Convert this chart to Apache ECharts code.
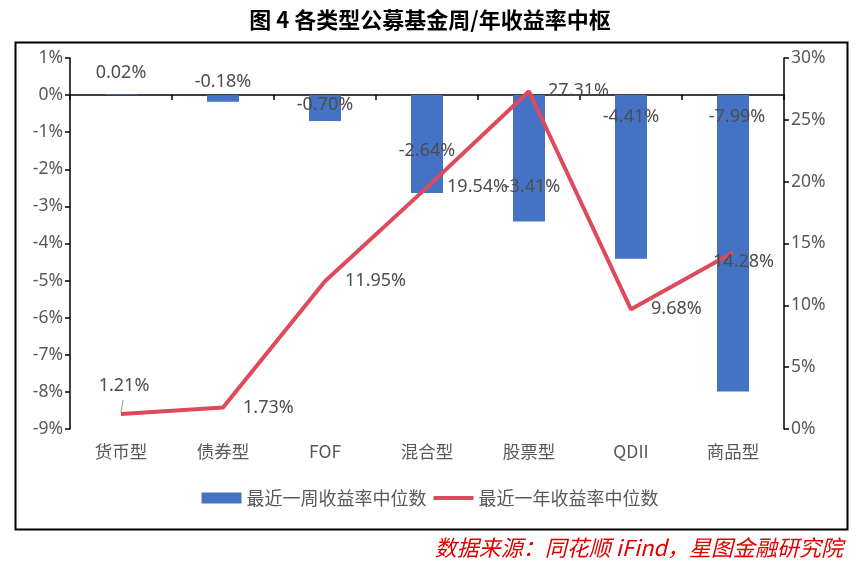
<!DOCTYPE html>
<html><head><meta charset="utf-8">
<script src="https://cdn.jsdelivr.net/npm/echarts@6/dist/echarts.min.js"></script>
<style>html,body{margin:0;padding:0;background:#fff}#c{width:860px;height:562px}</style>
</head><body><div id="c"></div>
<script>
const categories = ['货币型','债券型','FOF','混合型','股票型','QDII','商品型'];
const weekMedian = [0.02, -0.18, -0.70, -2.64, -3.41, -4.41, -7.99];
const yearMedian = [1.21, 1.73, 11.95, 19.54, 27.31, 9.68, 14.28];
const leftTicks = {min: -9, max: 1, interval: 1};
const rightTicks = {min: 0, max: 30, interval: 5};
const seriesNames = ['最近一周收益率中位数', '最近一年收益率中位数'];

const labelColor = '#4d4d4d';
const font = '"Noto Sans", "Noto Sans CJK SC", sans-serif';
// label placement styles (not data)
const barLabelStyle = [
  {position:'top', distance:12},
  {position:'top', distance:4},
  {position:'insideTop', distance:1},
  {position:'insideTop', distance:47},
  {position:'insideTop', distance:83, offset:[3,0]},
  {position:'insideTop', distance:13},
  {position:'insideTop', distance:13, offset:[4,0]}
];
const lineLabelStyle = [
  {position:'top', distance:19, offset:[3,0]},
  {position:'right', distance:20},
  {position:'right', distance:20},
  {position:'right', distance:20},
  {position:'right', distance:19},
  {position:'right', distance:20},
  {position:'right', distance:-20, offset:[0,9]}
];
const pct = v => v.toFixed(2) + '%';

const chart = echarts.init(document.getElementById('c'), null, {renderer:'canvas'});
chart.setOption({
  animation: false,
  backgroundColor: '#fff',
  title: {
    text: '图 4 各类型公募基金周/年收益率中枢',
    left: 'center', top: 4,
    textStyle: {fontSize: 22, fontWeight: 'bold', color: '#000', fontFamily: '"Noto Sans CJK SC", sans-serif'}
  },
  legend: {
    top: 484, left: 'center',
    itemWidth: 40, itemHeight: 11, itemGap: 7,
    textStyle: {fontSize: 18, color: '#595959', fontFamily: '"Noto Sans CJK SC", sans-serif'},
    data: [
      {name: seriesNames[0], icon: 'rect'},
      {name: seriesNames[1], icon: 'path://M0,0 L40,0 L40,4 L0,4 Z'}
    ]
  },
  grid: {left: 70, right: 76, top: 58, bottom: 133},
  xAxis: [
    {
      type: 'category', data: categories, boundaryGap: true,
      axisLine: {show: true, onZero: true, onZeroAxisIndex: 0, lineStyle: {color: '#000', width: 1.5}},
      axisTick: {show: true, length: 5, lineStyle: {color: '#000', width: 1.5}},
      axisLabel: {show: false}, splitLine: {show: false}
    },
    {
      type: 'category', data: categories, position: 'bottom',
      axisLine: {show: false, onZero: false}, axisTick: {show: false},
      axisLabel: {show: true, margin: 14, fontSize: 17.5, color: '#595959', fontFamily: '"Noto Sans CJK SC", sans-serif'}
    }
  ],
  yAxis: [
    {
      type: 'value', min: leftTicks.min, max: leftTicks.max, interval: leftTicks.interval, position: 'left',
      axisLine: {show: true, lineStyle: {color: '#000', width: 1.5}},
      axisTick: {show: true, length: 5, lineStyle: {color: '#000', width: 1.5}},
      axisLabel: {formatter: v => v + '%', fontSize: 17.5, color: '#595959', margin: 7, fontFamily: font},
      splitLine: {show: false}
    },
    {
      type: 'value', min: rightTicks.min, max: rightTicks.max, interval: rightTicks.interval, position: 'right',
      axisLine: {show: true, lineStyle: {color: '#000', width: 1.5}},
      axisTick: {show: true, length: 5, lineStyle: {color: '#000', width: 1.5}},
      axisLabel: {formatter: v => v + '%', fontSize: 17.5, color: '#595959', margin: 7, fontFamily: font},
      splitLine: {show: false}
    }
  ],
  series: [
    {
      name: seriesNames[0], type: 'bar', xAxisIndex: 0, yAxisIndex: 0, barWidth: 32,
      itemStyle: {color: '#4472C4'},
      data: weekMedian.map((v, i) => ({value: v, label: Object.assign({}, barLabelStyle[i])})),
      label: {show: true, formatter: p => pct(p.value), fontSize: 18, color: labelColor, fontFamily: font},
      z: 2
    },
    {
      name: seriesNames[1], type: 'line', xAxisIndex: 0, yAxisIndex: 1,
      symbol: 'none', showSymbol: true, symbolSize: 0,
      lineStyle: {color: '#DE4A5C', width: 4},
      itemStyle: {color: '#DE4A5C'},
      data: yearMedian.map((v, i) => ({value: v, symbol: 'circle', symbolSize: 0.1, label: Object.assign({}, lineLabelStyle[i])})),
      label: {show: true, formatter: p => pct(p.value), fontSize: 18, color: labelColor, fontFamily: font},
      z: 3
    }
  ],
  graphic: [
    {type: 'rect', left: 13, top: 40, shape: {width: 832, height: 487}, style: {fill: 'none', stroke: '#000', lineWidth: 2}, silent: true},
    {type: 'text', right: 17, top: 537, style: {text: '数据来源：同花顺 iFind，星图金融研究院', fill: '#E00000', font: 'italic 22px "Noto Sans CJK SC", serif'}},
    {type: 'line', shape: {x1: 123, y1: 400, x2: 121, y2: 412}, style: {stroke: '#999', lineWidth: 1}}
  ]
});
</script>
</body></html>
